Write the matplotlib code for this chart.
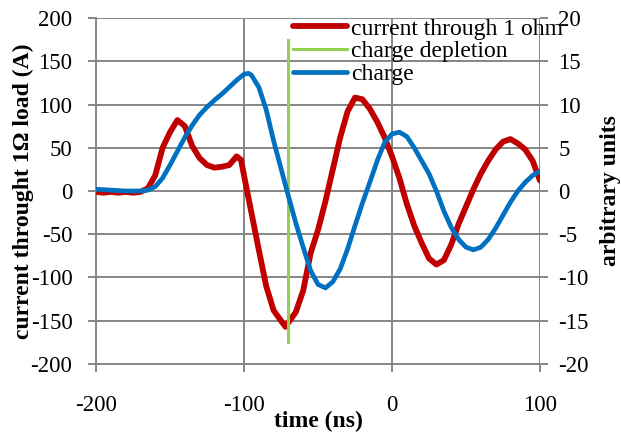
import matplotlib
matplotlib.use("Agg")
import matplotlib.pyplot as plt

plt.rcParams['font.family'] = ['Liberation Serif', 'DejaVu Serif']
plt.rcParams['font.size'] = 16.5
plt.rcParams['axes.unicode_minus'] = False

# current through the 1 ohm load (A), left axis
t_cur = [-200, -195, -190, -185, -180, -175, -170, -165, -160, -155, -150, -145,
         -140, -135, -130, -125, -120, -115, -110, -105, -102, -100, -95, -90,
         -85, -80, -75, -72, -70, -65, -60, -55, -50, -45, -40, -35, -30, -25,
         -20, -15, -10, -5, 0, 5, 10, 15, 20, 25, 30, 35, 40, 45, 50, 55, 60,
         65, 70, 75, 80, 85, 90, 95, 100]
current = [-1, -2, -1, -2, -1, -2, -1, 3, 18, 50, 68, 82,
           75, 52, 38, 30, 27, 28, 30, 40, 36, 18, -25, -68,
           -110, -138, -150, -157, -152, -140, -115, -72, -45, -12, 25, 62, 92, 108,
           106, 95, 80, 62, 40, 15, -15, -40, -60, -78, -85, -80, -62, -38, -18, 2, 20,
           35, 48, 57, 60, 55, 48, 35, 12]

# charge (arbitrary units), right axis
t_chg = [-200, -190, -180, -170, -165, -160, -155, -150, -145, -140, -135, -130,
         -125, -120, -115, -110, -105, -100, -97, -95, -90, -85, -80, -75, -70,
         -65, -60, -55, -50, -45, -40, -35, -30, -25, -20, -15, -10, -5, 0, 5,
         10, 15, 20, 25, 30, 35, 40, 45, 50, 55, 60, 65, 70, 75, 80, 85, 90,
         95, 100]
charge = [0.2, 0.1, 0, 0, 0.1, 0.5, 1.5, 3, 4.6, 6.2, 7.6, 8.8,
          9.7, 10.5, 11.2, 12, 12.8, 13.5, 13.6, 13.4, 12, 9.4, 5.8, 2.6, -0.6,
          -3.7, -6.5, -9.2, -10.8, -11.2, -10.5, -9, -6.7, -4, -1.4, 1, 3.5, 5.6, 6.6, 6.8,
          6.3, 5, 3.5, 2, 0, -2.3, -4.2, -5.6, -6.5, -6.8, -6.5, -5.6, -4.3, -2.8, -1.3, 0, 1,
          1.8, 2.3]

# charge depletion marker (right axis)
t_dep = [-70, -70]
depletion = [-17.5, 17.5]

grid_col = '#868686'

fig = plt.figure(figsize=(6.21, 4.34), dpi=100)
ax = fig.add_axes([0.1546, 0.1613, 0.7150, 0.7972])
ax2 = ax.twinx()

ax.plot(t_cur, current, color='#C00000', lw=4.2, solid_capstyle='round', zorder=3,
        label='current through 1 ohm')
ax2.plot(t_dep, depletion, color='#92D050', lw=2.2, label='charge depletion')
ax2.plot(t_chg, charge, color='#0070C0', lw=3.4, solid_capstyle='round',
         label='charge')

ax.set_xlim(-200, 100)
ax.set_ylim(-200, 200)
ax2.set_ylim(-20, 20)
ax.set_xticks([-200, -100, 0, 100])
ax.set_yticks(range(-200, 201, 50))
ax2.set_yticks(range(-20, 21, 5))

ax.grid(True, color=grid_col, lw=1.4)
ax.set_axisbelow(True)
for a in (ax, ax2):
    for s in a.spines.values():
        s.set_visible(False)
for side in ('left', 'bottom'):
    ax.spines[side].set_visible(True)
    ax.spines[side].set_color(grid_col)
    ax.spines[side].set_linewidth(1.4)

ax.tick_params(axis='x', color=grid_col, width=1.4, length=6, direction='out', pad=16)
ax.tick_params(axis='y', color=grid_col, width=1.4, length=6, direction='out', pad=11)
ax2.tick_params(axis='y', color=grid_col, width=1.4, length=6, direction='out', pad=7)

ax.set_xlabel('time (ns)', fontweight='bold', fontsize=17)
ax.set_ylabel('current throught 1Ω load (A)', fontweight='bold', fontsize=17)
ax2.set_ylabel('arbitrary units', fontweight='bold', fontsize=17)
ax.xaxis.set_label_coords(0.5, -0.135)
ax.yaxis.set_label_coords(-0.14, 0.5)
ax2.yaxis.set_label_coords(1.135, 0.5)

h1, l1 = ax.get_legend_handles_labels()
h2, l2 = ax2.get_legend_handles_labels()
ax2.legend(h1 + h2, l1 + l2, loc='upper left', bbox_to_anchor=(0.444, 1.0),
           frameon=False, handlelength=2.3, handletextpad=0.15, labelspacing=0.05,
           borderpad=0, borderaxespad=0, fontsize=17)

fig.savefig('out.png', dpi=100)
